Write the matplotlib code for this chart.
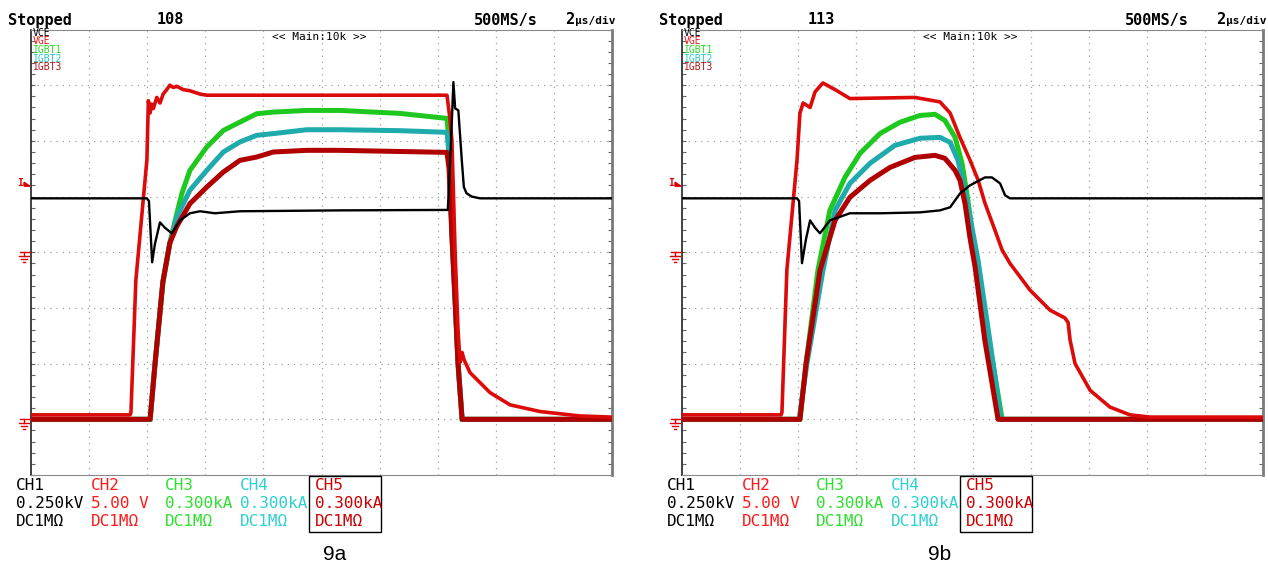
import matplotlib
matplotlib.use("Agg")
import matplotlib.pyplot as plt
from matplotlib.lines import Line2D
from matplotlib.patches import Rectangle, Polygon
import numpy as np

W, H = 1268, 569

# ---------------- data (time in us, VCE in V, VGE in V, currents in A) ----------------
# 9a
t_vce_a = [0, 3.99, 4.06, 4.17, 4.27, 4.44, 4.61, 4.85, 5.13, 5.47, 5.82, 6.33, 7.19, 10.64,
           14.35, 14.46, 14.54, 14.60, 14.71, 14.83, 14.90, 14.99, 15.17, 15.46, 20]
vce_a = [242, 242, 230, -45, 40, 134, 110, 85, 143, 175, 184, 175, 184, 188,
         190, 502, 764, 646, 637, 412, 293, 265, 250, 242, 242]

t_vge_a = [0, 3.41, 3.44, 3.61, 3.99, 4.04, 4.10, 4.15, 4.21, 4.33, 4.44, 4.55, 4.67, 4.78, 4.90,
           5.02, 5.24, 5.47, 5.82, 6.05, 14.32, 14.42, 14.49, 14.60, 14.70, 14.77, 14.84, 14.90,
           15.11, 15.80, 16.49, 17.52, 18.90, 20]
vge_a = [-14.6, -14.6, -14.4, -2.5, 8.3, 13.6, 12.5, 13.3, 12.9, 13.9, 13.4, 14.2, 14.6, 15.0, 14.8,
         14.9, 14.6, 14.5, 14.2, 14.1, 14.1, 12.0, 10.0, 0.0, -7.0, -9.9, -9.0, -9.6,
         -10.8, -12.6, -13.7, -14.3, -14.7, -14.8]

t_i1_a = [0, 4.10, 4.27, 4.54, 4.78, 5.02, 5.20, 5.47, 6.05, 6.62, 7.19, 7.77, 8.34, 9.49, 10.64,
          12.70, 14.32, 14.39, 14.49, 14.60, 14.70, 14.84, 20]
i1_a = [0, 0, 300, 740, 950, 1108, 1220, 1341, 1467, 1556, 1601, 1646, 1655, 1664, 1664,
        1648, 1621, 1500, 1018, 650, 300, 0, 0]

t_i2_a = [0, 4.10, 4.27, 4.54, 4.78, 5.02, 5.47, 6.05, 6.62, 7.19, 7.77, 8.34, 9.49, 10.64,
          12.70, 14.32, 14.39, 14.49, 14.60, 14.70, 14.84, 20]
i2_a = [0, 0, 300, 740, 950, 1090, 1234, 1341, 1440, 1494, 1530, 1539, 1560, 1560,
        1555, 1546, 1430, 1000, 640, 300, 0, 0]

t_i3_a = [0, 4.10, 4.27, 4.54, 4.78, 5.02, 5.47, 6.05, 6.62, 7.19, 7.77, 8.34, 9.49, 10.64,
          14.32, 14.39, 14.49, 14.60, 14.70, 14.84, 20]
i3_a = [0, 0, 300, 740, 950, 1040, 1162, 1251, 1332, 1395, 1413, 1440, 1449, 1449,
        1438, 1350, 980, 630, 300, 0, 0]

# 9b
t_vce_b = [0, 3.96, 4.03, 4.13, 4.27, 4.41, 4.58, 4.75, 5.09, 5.78, 6.82, 8.19, 8.88, 9.23,
           9.57, 9.91, 10.43, 10.67, 10.95, 11.12, 11.29, 20]
vce_b = [242, 242, 230, -49, 60, 143, 110, 85, 143, 175, 175, 179, 188, 202,
         264, 300, 336, 336, 309, 256, 242, 242]

t_vge_b = [0, 3.41, 3.44, 3.61, 3.96, 4.06, 4.17, 4.41, 4.58, 4.85, 5.27, 5.78, 8.02, 8.88, 9.23,
           9.57, 9.91, 10.19, 10.43, 10.77, 11.02, 11.29, 11.98, 12.67, 13.18, 13.29, 13.36,
           13.53, 14.05, 14.73, 15.42, 16.11, 20]
vge_b = [-14.6, -14.6, -14.4, -1.6, 8.3, 12.5, 13.4, 13.0, 14.4, 15.2, 14.6, 13.8, 13.9, 13.5, 12.5,
         10.3, 8.3, 6.5, 4.4, 2.0, 0.2, -1.0, -3.4, -5.2, -5.9, -6.3, -7.9,
         -10.0, -12.4, -13.9, -14.6, -14.8, -14.8]

t_i1_b = [0, 4.06, 4.27, 4.68, 5.09, 5.61, 6.13, 6.82, 7.50, 8.19, 8.71, 9.05, 9.40, 9.64,
          9.84, 10.09, 10.60, 11.02, 20]
i1_b = [0, 0, 300, 803, 1126, 1304, 1433, 1540, 1600, 1637, 1643, 1610, 1519, 1379,
        1180, 900, 400, 0, 0]

t_i2_b = [0, 4.03, 4.30, 4.85, 5.27, 5.78, 6.47, 7.33, 8.19, 8.88, 9.23, 9.50, 9.74, 9.98,
          10.19, 10.60, 10.98, 20]
i2_b = [0, 0, 300, 800, 1126, 1271, 1379, 1476, 1514, 1519, 1492, 1395, 1234, 1034,
        857, 420, 0, 0]

t_i3_b = [0, 4.06, 4.27, 4.75, 5.27, 5.78, 6.47, 7.16, 8.02, 8.71, 9.05, 9.40, 9.57, 9.74,
          9.91, 10.09, 10.43, 10.88, 20]
i3_b = [0, 0, 300, 803, 1072, 1196, 1287, 1357, 1411, 1422, 1406, 1341, 1287, 1164,
        981, 819, 420, 0, 0]

record_no = ["108", "113"]
captions = ["9a", "9b"]
trace_names = ["VCE", "VGE", "IGBT1", "IGBT2", "IGBT3"]
ch_names = ["CH1", "CH2", "CH3", "CH4", "CH5"]
ch_scales = ["0.250kV", "5.00 V", "0.300kA", "0.300kA", "0.300kA"]
ch_coupling = ["DC1MΩ"] * 5

# channel settings (divisions)
VCE_GND, VCE_PER_DIV = 4.0, 250.0
VGE_GND, VGE_PER_DIV = 4.0, 5.0
I_GND, I_PER_DIV = 1.0, 300.0
TRIG_DIV = 5.24

# ---------------- style ----------------
C_VCE = "#000000"
C_VGE = "#dd0a0a"
C_I1 = "#1fc81f"
C_I2 = "#1fabab"
C_I3 = "#b00000"
TXT_COLS = ["#000000", "#ff1a1a", "#2ee02e", "#2ed0d0", "#cc0000"]
LBL_COLS = ["#000000", "#ee1111", "#22dd22", "#22c8c8", "#bb1111"]

MONO = "DejaVu Sans Mono"

fig = plt.figure(figsize=(W / 100, H / 100), dpi=100)
fig.patch.set_facecolor("white")


def fx(x):
    return x / W


def fy(y):
    return 1 - y / H


def txt(x, y, s, color="black", size=11.5, weight="normal", ha="left", family=MONO):
    fig.text(fx(x), fy(y), s, color=color, fontsize=size, fontweight=weight,
             ha=ha, va="center", family=family)


def pline(xs, ys, color, lw=1.0):
    fig.add_artist(Line2D([fx(v) for v in xs], [fy(v) for v in ys], color=color, lw=lw,
                          transform=fig.transFigure))


SCR_TOP, SCR_BOT, SCR_W = 29.5, 475.0, 581.0
DIV_PX = (SCR_BOT - SCR_TOP) / 8.0
lefts = [31.0, 682.0]
cap_x = [335, 940]

panels = [
    (t_vce_a, vce_a, t_vge_a, vge_a, t_i1_a, i1_a, t_i2_a, i2_a, t_i3_a, i3_a),
    (t_vce_b, vce_b, t_vge_b, vge_b, t_i1_b, i1_b, t_i2_b, i2_b, t_i3_b, i3_b),
]

for k, L in enumerate(lefts):
    ox = L - 31.0
    ax = fig.add_axes([fx(L), fy(SCR_BOT), SCR_W / W, (SCR_BOT - SCR_TOP) / H])
    ax.set_xlim(0, 20)
    ax.set_ylim(0, 8)
    ax.set_facecolor("white")
    for gx in range(2, 20, 2):
        ax.axvline(gx, color="#a0a0a0", lw=0.9, ls=(0, (1, 4)), zorder=1)
    for gy in range(1, 8):
        ax.axhline(gy, color="#a0a0a0", lw=0.9, ls=(0, (1, 4)), zorder=1)
    ax.set_xticks([])
    ax.set_yticks([])
    ax.set_yticks(np.arange(0, 8.01, 0.2), minor=True)
    ax.tick_params(which="minor", direction="in", length=3, width=0.8, color="#666666",
                   left=True, right=True, labelleft=False)
    ax.spines["top"].set_color("#8a8a8a")
    ax.spines["bottom"].set_color("#8a8a8a")
    ax.spines["right"].set_color("#7a7a7a")
    ax.spines["right"].set_linewidth(2.0)
    ax.spines["left"].set_color("#222222")
    ax.spines["left"].set_linewidth(1.2)

    tv, vce, tg, vge, t1, i1, t2, i2, t3, i3 = panels[k]
    ax.plot(t1, I_GND + np.asarray(i1) / I_PER_DIV, color=C_I1, lw=3.6, zorder=3,
            solid_joinstyle="miter")
    ax.plot(t2, I_GND + np.asarray(i2) / I_PER_DIV, color=C_I2, lw=3.6, zorder=4)
    ax.plot(t3, I_GND + np.asarray(i3) / I_PER_DIV, color=C_I3, lw=3.6, zorder=5)
    ax.plot(tg, VGE_GND + np.asarray(vge) / VGE_PER_DIV, color=C_VGE, lw=2.6, zorder=6)
    ax.plot(tv, VCE_GND + np.asarray(vce) / VCE_PER_DIV, color=C_VCE, lw=1.7, zorder=7)

    # trace labels inside the screen
    for j, (nm, col) in enumerate(zip(trace_names, LBL_COLS)):
        txt(L + 2, 33 + j * 8.5, nm, color=col, size=7)
    txt(L + 241, 37, "<< Main:10k >>", size=8)

    # header
    txt(8 + ox, 20, "Stopped", size=11, weight="bold")
    txt(157 + ox, 20, record_no[k], size=11, weight="bold")
    txt(474 + ox, 20, "500MS/s", size=11, weight="bold")
    txt(565 + ox, 20, "2", size=11, weight="bold")
    txt(575 + ox, 21, "μs/div", size=8, weight="bold")

    # level markers on the left edge
    ytr = SCR_BOT - TRIG_DIV * DIV_PX
    txt(L - 11, ytr, "I", color="#dd0000", size=7, weight="bold", ha="center")
    fig.add_artist(Polygon([[fx(L - 7), fy(ytr - 1)], [fx(L - 1), fy(ytr + 3)],
                            [fx(L - 7), fy(ytr + 3)]], closed=True, color="#dd0000",
                           transform=fig.transFigure))
    for gdiv in (VGE_GND, I_GND):
        yg = SCR_BOT - gdiv * DIV_PX
        pline([L - 11, L - 1], [yg, yg], "#dd0000", 1.0)
        pline([L - 7, L - 7], [yg, yg + 4], "#dd0000", 1.0)
        pline([L - 12, L - 2], [yg + 4, yg + 4], "#dd0000", 1.0)
        pline([L - 10, L - 4], [yg + 7, yg + 7], "#dd0000", 1.0)
        pline([L - 8, L - 6], [yg + 10, yg + 10], "#dd0000", 1.0)

    # channel table
    cols_x = [16, 91, 165, 240, 315]
    for j in range(5):
        cx = cols_x[j] + ox
        txt(cx, 485, ch_names[j], color=TXT_COLS[j], size=11.5)
        txt(cx, 503, ch_scales[j], color=TXT_COLS[j], size=11.5)
        txt(cx, 521, ch_coupling[j], color=TXT_COLS[j], size=11.5)
    fig.add_artist(Rectangle((fx(309 + ox), fy(532)), 72 / W, 56 / H, fill=False,
                             edgecolor="black", lw=1.0, transform=fig.transFigure))

    txt(cap_x[k], 555, captions[k], size=15, ha="center", family="Liberation Sans")

fig.savefig("out.png", dpi=100, facecolor="white")
